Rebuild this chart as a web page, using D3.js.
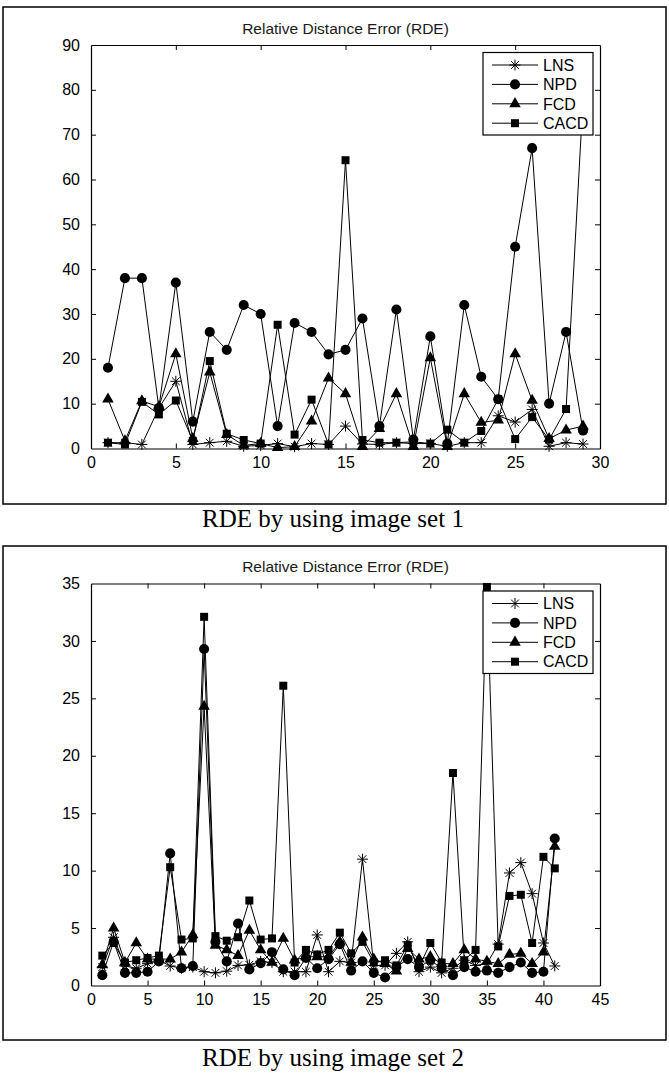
<!DOCTYPE html>
<html>
<head>
<meta charset="utf-8">
<script src="https://cdn.jsdelivr.net/npm/d3@7"></script>
<style>
  html, body { margin: 0; padding: 0; background: #fff; }
  svg { display: block; }
</style>
</head>
<body>
<svg id="chart" width="669" height="1074"></svg>
<script>
// Data: image set 1 (29 images)
const lns1  = [1.3, 1.3, 0.9, 9, 15, 0.9, 1.3, 1.6, 0.5, 0.7, 1.1, 0.4, 1.1, 0.9, 5, 1.0, 0.9, 1.3, 1.1, 1.1, 0.5, 1.3, 1.3, 7.3, 5.9, 8.7, 0.5, 1.3, 1.0];
const npd1  = [18, 38, 38, 9, 37, 6, 26, 22, 32, 30, 5, 28, 26, 21, 22, 29, 5, 31, 2, 25, 1.1, 32, 16, 11, 45, 67, 10, 26, 4];
const fcd1  = [11, 1.7, 10.6, 9.3, 21.1, 2.2, 17, 3.1, 0.7, 1.1, 0.2, 0.4, 6.1, 15.7, 12.2, 0.4, 4.4, 12.2, 0.4, 20.2, 0.4, 12.2, 5.8, 6.3, 21.1, 10.7, 2.2, 4.1, 5.0];
const cacd1 = [1.3, 0.9, 10.4, 7.6, 10.7, 1.7, 19.5, 3.3, 1.9, 1.1, 27.6, 3.1, 10.9, 0.9, 64.3, 1.9, 1.3, 1.3, 1.5, 1.1, 4.2, 1.3, 3.9, 11, 2.1, 7.0, 2.0, 8.8, 78];

// Data: image set 2 (41 images)
const lns2  = [1.6, 4.2, 1.7, 1.5, 1.9, 2.2, 1.7, 1.5, 1.6, 1.2, 1.1, 1.25, 1.75, 1.8, 2.1, 2.0, 1.2, 1.2, 1.2, 4.4, 1.2, 2.1, 2.0, 11.0, 1.75, 1.75, 2.8, 3.8, 1.2, 1.6, 1.1, 1.5, 2.2, 1.75, 1.9, 3.6, 9.8, 10.7, 8.0, 3.7, 1.7];
const npd2  = [0.9, 3.8, 1.1, 1.1, 1.2, 2.1, 11.5, 1.5, 1.7, 29.3, 3.8, 2.1, 5.4, 1.4, 1.95, 2.9, 1.4, 0.9, 2.4, 1.5, 2.3, 3.6, 1.3, 2.1, 1.1, 0.7, 1.6, 2.3, 1.6, 2.2, 1.5, 0.9, 1.6, 1.2, 1.3, 1.1, 1.6, 2.0, 1.1, 1.2, 12.8];
const fcd2  = [1.8, 5.0, 2.0, 3.7, 2.3, 2.3, 2.3, 2.9, 4.4, 24.3, 3.5, 3.1, 2.6, 4.8, 3.1, 2.0, 4.1, 2.2, 2.5, 2.5, 2.5, 3.8, 2.0, 4.2, 2.3, 1.9, 1.25, 3.2, 2.3, 2.5, 1.9, 1.9, 3.1, 2.3, 2.1, 1.9, 2.7, 2.8, 1.9, 2.9, 12.1];
const cacd2 = [2.6, 3.7, 2.0, 2.2, 2.4, 2.6, 10.3, 4.0, 4.1, 32.1, 4.3, 3.9, 4.2, 7.4, 4.0, 4.1, 26.1, 2.0, 3.1, 2.7, 3.1, 4.6, 2.8, 3.8, 2.0, 2.2, 1.75, 3.5, 1.6, 3.7, 2.0, 18.5, 2.2, 3.1, 34.7, 3.4, 7.8, 7.9, 3.7, 11.2, 10.2];

// Labels and ticks
const seriesNames = ['LNS', 'NPD', 'FCD', 'CACD'];
const markerTypes = ['star', 'circle', 'triangle', 'square'];
const xTicks1 = [0, 5, 10, 15, 20, 25, 30];
const yTicks1 = [0, 10, 20, 30, 40, 50, 60, 70, 80, 90];
const xTicks2 = [0, 5, 10, 15, 20, 25, 30, 35, 40, 45];
const yTicks2 = [0, 5, 10, 15, 20, 25, 30, 35];
const chartTitle = 'Relative Distance Error (RDE)';
const captions = ['RDE by using image set 1', 'RDE by using image set 2'];

// Layout
const panels = [
    {
        box: { x: 3, y: 7, w: 663, h: 497 },
        axes: { left: 91, right: 600, top: 45, bottom: 448.5 },
        xTicks: xTicks1, yTicks: yTicks1,
        series: [lns1, npd1, fcd1, cacd1],
        caption: captions[0], captionY: 527
    },
    {
        box: { x: 3, y: 546, w: 663, h: 494 },
        axes: { left: 91, right: 600, top: 583.5, bottom: 985.5 },
        xTicks: xTicks2, yTicks: yTicks2,
        series: [lns2, npd2, fcd2, cacd2],
        caption: captions[1], captionY: 1066
    }
];

const sansFont = 'Liberation Sans, Arial, sans-serif';
const serifFont = 'Liberation Serif, Times New Roman, serif';
const tickLen = 5;

const svg = d3.select('#chart');

// Marker path generator
function markerPath(type) {
    if (type === 'circle') return d3.symbol(d3.symbolCircle, 80)();
    if (type === 'square') return d3.symbol(d3.symbolSquare, 64)();
    if (type === 'triangle') return d3.symbol(d3.symbolTriangle, 58)();
    const r = 5.5, d = r * 0.707;
    return `M${-r},0L${r},0M0,${-r}L0,${r}M${-d},${-d}L${d},${d}M${-d},${d}L${d},${-d}`;
}

function drawMarker(g, type, x, y) {
    const p = g.append('path')
        .attr('d', markerPath(type))
        .attr('transform', `translate(${x},${y})`);
    if (type === 'star') {
        p.attr('fill', 'none').attr('stroke', '#000').attr('stroke-width', 1);
    } else {
        p.attr('fill', '#000').attr('stroke', 'none');
    }
}

function drawPanel(cfg) {
    const { box, axes } = cfg;
    const g = svg.append('g');

    // Outer frame
    g.append('rect')
        .attr('x', box.x).attr('y', box.y)
        .attr('width', box.w).attr('height', box.h)
        .attr('fill', 'none').attr('stroke', '#000').attr('stroke-width', 1.5);

    const xMax = cfg.xTicks[cfg.xTicks.length - 1];
    const yMax = cfg.yTicks[cfg.yTicks.length - 1];
    const x = d3.scaleLinear().domain([0, xMax]).range([axes.left, axes.right]);
    const y = d3.scaleLinear().domain([0, yMax]).range([axes.bottom, axes.top]);

    // Title
    g.append('text')
        .attr('x', (axes.left + axes.right) / 2)
        .attr('y', axes.top - 11.5)
        .attr('text-anchor', 'middle')
        .attr('font-family', sansFont)
        .attr('font-size', 15.5)
        .attr('fill', '#1a1a1a')
        .text(chartTitle);

    // Axes: bottom/left with labels, top/right mirror ticks only (MATLAB box on)
    const bottomAxis = d3.axisBottom(x).tickValues(cfg.xTicks).tickSizeInner(-tickLen).tickSizeOuter(0).tickPadding(8);
    const topAxis = d3.axisTop(x).tickValues(cfg.xTicks).tickSizeInner(-tickLen).tickSizeOuter(0).tickFormat('');
    const leftAxis = d3.axisLeft(y).tickValues(cfg.yTicks).tickSizeInner(-tickLen).tickSizeOuter(0).tickPadding(11);
    const rightAxis = d3.axisRight(y).tickValues(cfg.yTicks).tickSizeInner(-tickLen).tickSizeOuter(0).tickFormat('');

    const gb = g.append('g').attr('transform', `translate(0,${axes.bottom})`).call(bottomAxis);
    const gt = g.append('g').attr('transform', `translate(0,${axes.top})`).call(topAxis);
    const gl = g.append('g').attr('transform', `translate(${axes.left},0)`).call(leftAxis);
    const gr = g.append('g').attr('transform', `translate(${axes.right},0)`).call(rightAxis);

    [gb, gt, gl, gr].forEach(a => {
        a.select('.domain').attr('stroke', '#000').attr('stroke-width', 1.2);
        a.selectAll('.tick line').attr('stroke', '#000').attr('stroke-width', 1);
        a.selectAll('.tick text')
            .attr('font-family', sansFont)
            .attr('font-size', 16)
            .attr('fill', '#000');
    });
    // Hide end ticks that fall on the frame lines
    [gb, gt].forEach(a => a.selectAll('.tick line').filter(d => d === 0 || d === xMax).remove());
    [gl, gr].forEach(a => a.selectAll('.tick line').filter(d => d === 0 || d === yMax).remove());

    // Series lines and markers, in plotting order
    const line = d3.line().x((d, i) => x(i + 1)).y(d => y(d));
    cfg.series.forEach((vals, si) => {
        const sg = g.append('g');
        sg.append('path')
            .datum(vals)
            .attr('d', line)
            .attr('fill', 'none')
            .attr('stroke', '#000')
            .attr('stroke-width', 1);
        vals.forEach((v, i) => drawMarker(sg, markerTypes[si], x(i + 1), y(v)));
    });

    // Legend
    const lg = g.append('g');
    const lx = 483, lw = 110, ly = axes.top + 7.5, lh = 82.5;
    lg.append('rect')
        .attr('x', lx).attr('y', ly).attr('width', lw).attr('height', lh)
        .attr('fill', '#fff').attr('stroke', '#000').attr('stroke-width', 1.2);
    seriesNames.forEach((name, i) => {
        const ey = axes.top + 20 + i * 19.4;
        lg.append('line')
            .attr('x1', lx + 9).attr('x2', lx + 55)
            .attr('y1', ey).attr('y2', ey)
            .attr('stroke', '#000').attr('stroke-width', 1);
        drawMarker(lg, markerTypes[i], lx + 32, ey);
        lg.append('text')
            .attr('x', lx + 60).attr('y', ey)
            .attr('dy', '0.36em')
            .attr('font-family', sansFont)
            .attr('font-size', 16)
            .attr('fill', '#000')
            .text(name);
    });

    // Caption under the frame
    svg.append('text')
        .attr('x', 333)
        .attr('y', cfg.captionY)
        .attr('text-anchor', 'middle')
        .attr('font-family', serifFont)
        .attr('font-size', 25)
        .attr('fill', '#000')
        .text(cfg.caption);
}

panels.forEach(drawPanel);
</script>
</body>
</html>
